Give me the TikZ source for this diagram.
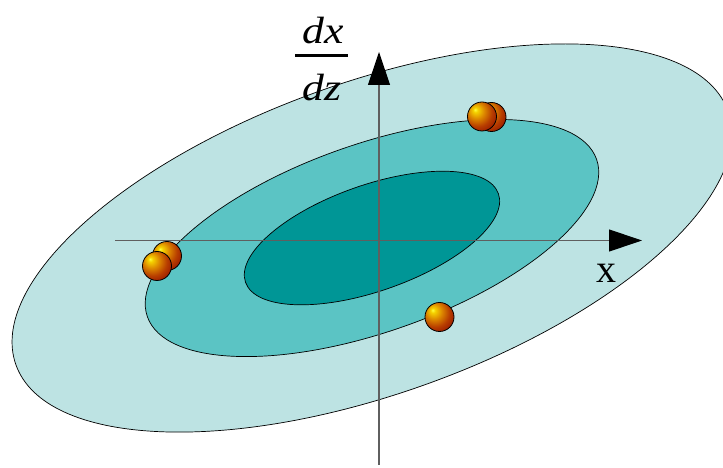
\documentclass[tikz,border=0pt]{standalone}
\usepackage{fontspec}
\setmainfont{Liberation Serif}
\usetikzlibrary{arrows.meta}
\definecolor{outerc}{RGB}{189,227,227}
\definecolor{midc}{RGB}{91,196,196}
\definecolor{innerc}{RGB}{0,150,150}
\definecolor{axisc}{RGB}{95,95,95}
\pgfdeclareradialshading{sphere}{\pgfpoint{-12bp}{12bp}}{%
 rgb(0bp)=(1,1,0.25);
 rgb(4bp)=(0.96,0.82,0);
 rgb(14bp)=(0.86,0.52,0);
 rgb(25bp)=(0.72,0.24,0);
 rgb(36bp)=(0.58,0.09,0);
 rgb(72bp)=(0.45,0.03,0)}
\tikzset{
  ringstyle/.style={draw=black, line width=0.7pt},
  axisstyle/.style={draw=axisc, line width=1.1pt, -{Triangle[width=22pt,length=33pt,color=black]}},
  ballstyle/.style={draw=black, line width=0.8pt, shading=sphere},
  lbl/.style={inner sep=0pt, anchor=base}
}
\begin{document}
\begin{tikzpicture}[x=1pt,y=1pt]
\useasboundingbox (0,0) rectangle (723,468);
\clip (0,0) rectangle (723,468);
\coordinate (c) at (372,230);
% ellipses
\draw[ringstyle, fill=outerc, rotate around={19.6:(c)}] (c) ellipse [x radius=378pt, y radius=156pt];
\draw[ringstyle, fill=midc, rotate around={19.3:(c)}] (c) ellipse [x radius=238pt, y radius=94pt];
\draw[ringstyle, fill=innerc, rotate around={19.3:(c)}] (c) ellipse [x radius=134pt, y radius=53pt];
% axes
\coordinate (xs) at (115,227.5);
\coordinate (xe) at (642,227.5);
\coordinate (ys) at (379,3);
\coordinate (ye) at (379,416);
\draw[axisstyle] (xs) -- (xe);
\draw[axisstyle] (ys) -- (ye);
% labels
\node[lbl, font=\fontsize{40}{44}\selectfont] (xl) at (606,185) {x};
\node[lbl, font=\fontsize{38}{42}\selectfont\itshape, xscale=1.15] (num) at (323,424) {dx};
\node[lbl, font=\fontsize{38}{42}\selectfont\itshape, xscale=1.15] (den) at (322,367) {dz};
\coordinate (fl) at (295,412.5);
\coordinate (fr) at (348,412.5);
\draw[line width=3pt] (fl) -- (fr);
% balls
\draw[ballstyle] (491.5,351) circle [radius=14.5pt];
\draw[ballstyle] (482,351.5) circle [radius=14.5pt];
\draw[ballstyle] (167,212) circle [radius=14.5pt];
\draw[ballstyle] (157,202) circle [radius=14.5pt];
\draw[ballstyle] (439.5,151) circle [radius=14.5pt];
\end{tikzpicture}
\end{document}
